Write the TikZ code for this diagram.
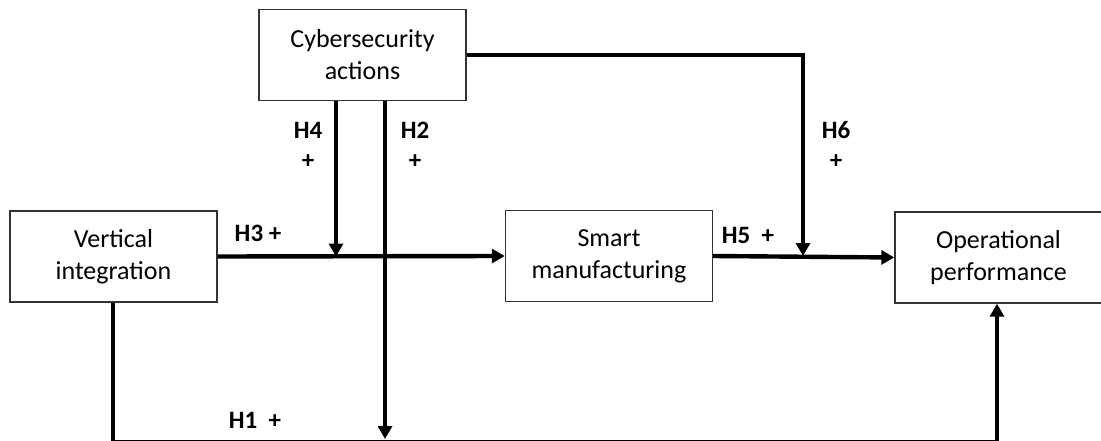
\documentclass[tikz,border=0pt]{standalone}
\usepackage{fontspec}
\setmainfont{Carlito}
\usetikzlibrary{arrows.meta}
\begin{document}
\begin{tikzpicture}[x=1pt,y=-1pt,
  box/.style={draw=black!80,line width=1.4pt,fill=white,minimum width=207pt,
    minimum height=91pt,align=center,font=\fontsize{26}{32}\selectfont,inner sep=0pt},
  link/.style={line width=4.4pt,draw=black},
  arr/.style={link,-{Triangle[width=14pt,length=13pt]}},
  lbl/.style={font=\bfseries\fontsize{25}{30}\selectfont,inner sep=0pt}]
\useasboundingbox (0,0) rectangle (1101,441);
\clip (0,0) rectangle (1101,441);

% boxes
\node[box] (cyber) at (362.5,55) {Cybersecurity\\actions};
\node[box] (vi) at (113.5,256.5) {Vertical\\integration};
\node[box] (sm) at (609,256) {Smart\\manufacturing};
\node[box] (op) at (998.5,257.5) {Operational\\performance};

% routing points
\coordinate (h4x) at (336,0);
\coordinate (h2x) at (385,0);
\coordinate (h2end) at (385,439);
\coordinate (h6c) at (803,55);
\coordinate (h1a) at (113,442.5);
\coordinate (h1b) at (997,442.5);

% H3 and H5
\draw[arr] (vi.east) -- (sm.west);
\draw[arr] (sm.east) -- (op.west);
% H1
\draw[link] (vi.south -| h1a) -- (h1a) -- (h1b);
\draw[arr] (h1b) -- (h1b |- op.south);
% H4 moderates H3
\draw[arr] (cyber.south -| h4x) -- (h4x |- vi.east);
% H2
\draw[arr] (cyber.south -| h2x) -- (h2end);
% H6 moderates H5
\draw[arr] (cyber.east |- h6c) -- (h6c) -- (h6c |- sm.east);

% labels
\node[lbl] (l4) at (308,130) {H4};
\node[lbl] (p4) at (308,162) {+};
\node[lbl] (l2) at (415,130) {H2};
\node[lbl] (p2) at (415,162) {+};
\node[lbl] (l3) at (258,233) {H3 +};
\node[lbl] (l5) at (748,235) {H5~~+};
\node[lbl] (l6) at (836,130) {H6};
\node[lbl] (p6) at (836,162) {+};
\node[lbl] (l1) at (255,420) {H1~~+};
\end{tikzpicture}
\end{document}
